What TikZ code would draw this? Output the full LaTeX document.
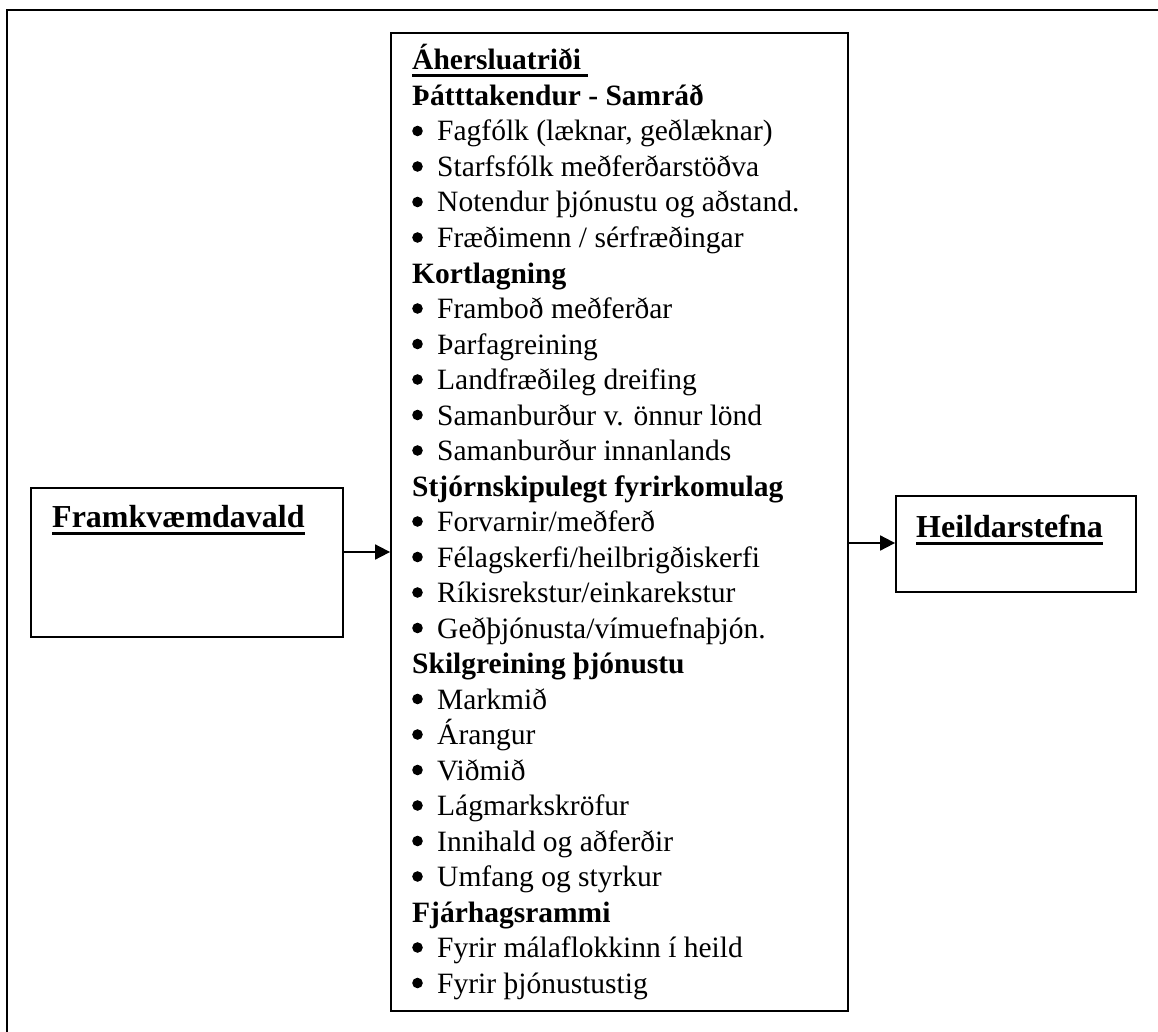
\documentclass[tikz,border=0pt]{standalone}
\usepackage{fontspec}
\setmainfont{Liberation Serif}
\usetikzlibrary{arrows.meta}
\newcommand\myul[1]{\setbox0\hbox{#1}\rlap{\rule[-7.5pt]{\wd0}{3pt}}\box0}
\begin{document}
\begin{tikzpicture}[x=1pt,y=-1pt,
  txt/.style={anchor=base west,inner sep=0pt,font=\fontsize{29.5}{35.5}\selectfont},
  hdr/.style={txt,font=\fontsize{29.5}{35.5}\selectfont\bfseries},
  side/.style={txt,font=\fontsize{32}{36}\selectfont\bfseries},
  boxs/.style={draw,line width=1.8pt,inner sep=0pt},
  arr/.style={line width=1.8pt,-{Triangle[length=15pt,width=15pt]}}]
\useasboundingbox (0,0) rectangle (1158,1032);
% outer frame (top and left only visible)
\draw[line width=2.8pt] (7,1032) -- (7,10) -- (1158,10);
% boxes
\node[boxs,minimum width=312pt,minimum height=149pt] (lbox) at (187,562.5) {};
\node[boxs,minimum width=457pt,minimum height=978pt] (main) at (619.5,522) {};
\node[boxs,minimum width=240pt,minimum height=96pt] (rbox) at (1016,544) {};
% side labels
\node[side] (lt) at (52,527) {\myul{Framkvæmdavald}};
\node[side] (rt) at (916,537) {\myul{Heildarstefna}};
% arrows
\coordinate (a1) at (0,552);
\coordinate (a2) at (0,543);
\draw[arr] (lbox.east |- a1) -- (main.west |- a1);
\draw[arr] (main.east |- a2) -- (rbox.west |- a2);
% main text
\node[hdr] (t1) at (412,70) {\myul{Áhersluatriði\ }};
\node[hdr] (t2) at (412,105.5) {Þátttakendur - Samráð};
\node[txt] (t3) at (437,141) {Fagfólk (læknar, geðlæknar)};
\node[txt] (t4) at (437,176.5) {Starfsfólk meðferðarstöðva};
\node[txt] (t5) at (437,212) {Notendur þjónustu og aðstand.};
\node[txt] (t6) at (437,247.5) {Fræðimenn / sérfræðingar};
\node[hdr] (t7) at (412,283) {Kortlagning};
\node[txt] (t8) at (437,318.5) {Framboð meðferðar};
\node[txt] (t9) at (437,354) {Þarfagreining};
\node[txt] (t10) at (437,389.5) {Landfræðileg dreifing};
\node[txt] (t11) at (437,425) {Samanburður v. önnur lönd};
\node[txt] (t12) at (437,460.5) {Samanburður innanlands};
\node[hdr] (t13) at (412,496) {Stjórnskipulegt fyrirkomulag};
\node[txt] (t14) at (437,531.5) {Forvarnir/meðferð};
\node[txt] (t15) at (437,567) {Félagskerfi/heilbrigðiskerfi};
\node[txt] (t16) at (437,602.5) {Ríkisrekstur/einkarekstur};
\node[txt] (t17) at (437,638) {Geðþjónusta/vímuefnaþjón.};
\node[hdr] (t18) at (412,673.5) {Skilgreining þjónustu};
\node[txt] (t19) at (437,709) {Markmið};
\node[txt] (t20) at (437,744.5) {Árangur};
\node[txt] (t21) at (437,780) {Viðmið};
\node[txt] (t22) at (437,815.5) {Lágmarkskröfur};
\node[txt] (t23) at (437,851) {Innihald og aðferðir};
\node[txt] (t24) at (437,886.5) {Umfang og styrkur};
\node[hdr] (t25) at (412,922) {Fjárhagsrammi};
\node[txt] (t26) at (437,957.5) {Fyrir málaflokkinn í heild};
\node[txt] (t27) at (437,993) {Fyrir þjónustustig};
% bullets
\foreach \n in {3,4,5,6,8,9,10,11,12,14,15,16,17,19,20,21,22,23,24,26,27}
  \fill ([xshift=-19.5pt,yshift=10pt]t\n.base west) circle (5.3pt);
\end{tikzpicture}
\end{document}
